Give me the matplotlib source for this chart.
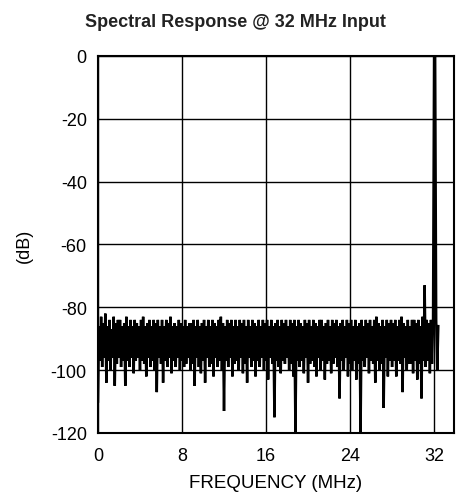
import numpy as np
import matplotlib
matplotlib.use("Agg")
import matplotlib.pyplot as plt

plt.rcParams['font.family'] = ['Liberation Sans', 'DejaVu Sans']
plt.rcParams['axes.unicode_minus'] = False

freq_step = 0.1
level_db = [
    -110, -86, -97, -83, -99, -85, -96, -82, -104, -86, -97, -84, -100, -87, -96, -83, -105, -85, -98, -84,
    -96, -84, -99, -86, -97, -85, -105, -83, -97, -86, -99, -84, -96, -86, -101, -84, -97, -85, -96, -86,
    -100, -84, -97, -83, -98, -86, -102, -85, -96, -84, -99, -86, -97, -84, -100, -85, -107, -84, -96, -86,
    -98, -84, -104, -86, -97, -84, -99, -85, -96, -83, -101, -86, -97, -85, -99, -86, -96, -84, -100, -85,
    -97, -86, -99, -84, -98, -86, -96, -85, -100, -85, -98, -84, -105, -86, -96, -84, -99, -86, -101, -85,
    -97, -84, -104, -86, -96, -84, -99, -86, -98, -84, -102, -85, -96, -86, -99, -84, -97, -83, -100, -85,
    -113, -86, -97, -84, -99, -85, -96, -84, -102, -86, -98, -84, -97, -86, -100, -84, -96, -85, -101, -84,
    -98, -86, -104, -84, -96, -86, -99, -84, -97, -85, -102, -86, -97, -84, -99, -86, -96, -84, -100, -85,
    -97, -84, -103, -86, -96, -84, -98, -86, -115, -85, -97, -84, -99, -86, -101, -84, -97, -85, -98, -84,
    -96, -86, -100, -84, -98, -85, -102, -84, -120, -86, -97, -84, -99, -85, -97, -86, -101, -84, -96, -85,
    -104, -84, -98, -86, -97, -84, -99, -85, -102, -86, -96, -84, -100, -84, -97, -86, -103, -85, -98, -84,
    -97, -86, -101, -84, -98, -85, -96, -84, -99, -86, -109, -85, -97, -84, -100, -86, -96, -84, -102, -85,
    -98, -84, -100, -86, -97, -84, -103, -86, -98, -85, -120, -84, -97, -86, -99, -84, -96, -85, -101, -84,
    -97, -86, -98, -84, -104, -83, -97, -85, -100, -86, -98, -84, -112, -86, -96, -84, -102, -85, -97, -84,
    -99, -85, -97, -84, -102, -86, -97, -84, -98, -83, -107, -85, -96, -86, -100, -84, -98, -86, -98, -84,
    -101, -84, -97, -85, -103, -84, -98, -86, -109, -83, -97, -73, -99, -84, -97, -85, -101, -84, -98, -85,
    0, 0, -84, -100, -86,
]
freq_mhz = np.arange(len(level_db)) * freq_step

x_ticks = [0, 8, 16, 24, 32]
y_ticks = [0, -20, -40, -60, -80, -100, -120]

fig = plt.figure(figsize=(4.71, 5.02), dpi=100)
ax = fig.add_axes([0.208, 0.1355, 0.756, 0.751])

ax.plot(freq_mhz, level_db, color='black', lw=1.8, solid_joinstyle='miter')

ax.set_xlim(0, 33.9)
ax.set_ylim(-120, 0)
ax.set_xticks(x_ticks)
ax.set_yticks(y_ticks)
ax.tick_params(length=0, labelsize=13)
ax.tick_params(axis='x', pad=10)
ax.tick_params(axis='y', pad=8)
ax.grid(True, color='black', lw=1)
ax.set_axisbelow(True)
for s in ax.spines.values():
    s.set_linewidth(1.5)

ax.set_xlabel('FREQUENCY (MHz)', fontsize=13.5, labelpad=7)
ax.set_ylabel('(dB)', fontsize=13, labelpad=13)
fig.text(0.5, 0.955, 'Spectral Response @ 32 MHz Input', ha='center', va='center',
         fontsize=13, fontweight='bold', color='#222222')

fig.savefig('out.png', dpi=100)
